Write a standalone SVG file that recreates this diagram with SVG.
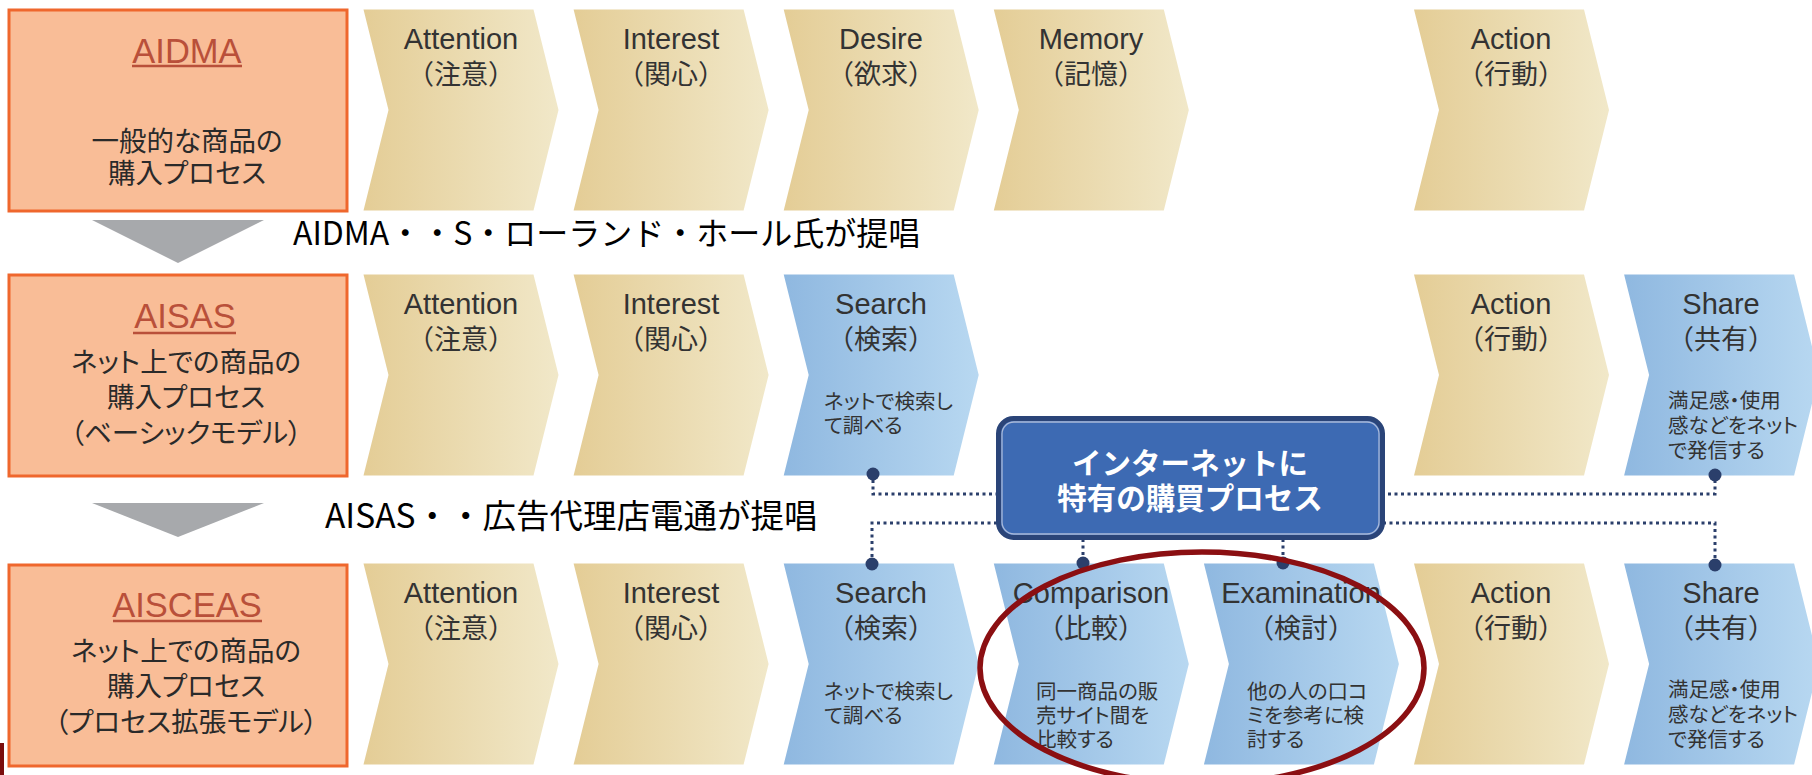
<svg xmlns="http://www.w3.org/2000/svg" xmlns:xlink="http://www.w3.org/1999/xlink" width="1812" height="775" viewBox="0 0 1812 775">
<style>
.model{fill:#f9bd97;stroke:#ef672d;stroke-width:3}
.title{font-family:"Liberation Sans","Noto Sans CJK JP",sans-serif;font-size:34.5px;fill:#b9503a;text-anchor:middle}
.uline{stroke:#b9503a;stroke-width:2.6}
.mtext{font-family:"Noto Sans CJK JP",sans-serif;font-size:27.5px;fill:#2a2a2a;text-anchor:middle;font-feature-settings:"palt"}
.tan{fill:url(#gTan)}
.blue{fill:url(#gBlue)}
.lbl{font-family:"Liberation Sans","Noto Sans CJK JP",sans-serif;font-size:29px;fill:#333;text-anchor:middle}
.jp{font-family:"Noto Sans CJK JP",sans-serif;font-size:27px;fill:#333;text-anchor:middle}
.desc{font-family:"Noto Sans CJK JP",sans-serif;font-size:20.5px;fill:#333;font-feature-settings:"palt"}
.note{font-family:"Noto Sans CJK JP",sans-serif;fill:#000}
.garrow{fill:#a7a9ac}
.conn{fill:none;stroke:#2b3f6b;stroke-width:3;stroke-dasharray:3 3.5}
.dot{fill:#2b3f6b}
.hub{font-family:"Noto Sans CJK JP",sans-serif;font-size:29.5px;font-weight:bold;fill:#fff;text-anchor:middle}
</style>
<defs>
<linearGradient id="gTan" x1="0" y1="0" x2="1" y2="0"><stop offset="0" stop-color="#e4cd96"/><stop offset="1" stop-color="#f1e8c9"/></linearGradient>
<linearGradient id="gBlue" x1="0" y1="0" x2="1" y2="0"><stop offset="0" stop-color="#8fb8e0"/><stop offset="1" stop-color="#b8d8f1"/></linearGradient>
<path id="chev" d="M0,0 H170 L195,100.5 L170,201 H0 L25,100.5 Z"/>
</defs>
<rect width="1812" height="775" fill="#fff"/>

<!-- Row 1: AIDMA -->
<g id="aidma">
<rect class="model" x="9" y="10" width="338" height="201"/>
<text class="title" x="187" y="63">AIDMA</text>
<line class="uline" x1="132" y1="66" x2="242" y2="66"/>
<text class="mtext" x="187" y="151">一般的な商品の</text>
<text class="mtext" x="187" y="183">購入プロセス</text>
</g>
<g id="r1-attention"><use href="#chev" class="tan" x="363.5" y="9.5"/><text class="lbl" x="461" y="48.5">Attention</text><text class="jp" x="461" y="84">（注意）</text></g>
<g id="r1-interest"><use href="#chev" class="tan" x="573.6" y="9.5"/><text class="lbl" x="671" y="48.5">Interest</text><text class="jp" x="671" y="84">（関心）</text></g>
<g id="r1-desire"><use href="#chev" class="tan" x="783.7" y="9.5"/><text class="lbl" x="881" y="48.5">Desire</text><text class="jp" x="881" y="84">（欲求）</text></g>
<g id="r1-memory"><use href="#chev" class="tan" x="993.8" y="9.5"/><text class="lbl" x="1091" y="48.5">Memory</text><text class="jp" x="1091" y="84">（記憶）</text></g>
<g id="r1-action"><use href="#chev" class="tan" x="1414" y="9.5"/><text class="lbl" x="1511" y="48.5">Action</text><text class="jp" x="1511" y="84">（行動）</text></g>

<g id="arrow1"><polygon class="garrow" points="92,220 264,220 178,263"/></g>
<g id="note1"><text class="note" x="293" y="245" font-size="32">AIDMA・・S・ローランド・ホール氏が提唱</text></g>

<!-- Row 2: AISAS -->
<g id="aisas">
<rect class="model" x="9" y="275" width="338" height="201"/>
<text class="title" x="185" y="328">AISAS</text>
<line class="uline" x1="133" y1="333" x2="236" y2="333"/>
<text class="mtext" x="186" y="372">ネット上での商品の</text>
<text class="mtext" x="186" y="407">購入プロセス</text>
<text class="mtext" x="186" y="443">（ベーシックモデル）</text>
</g>
<g id="r2-attention"><use href="#chev" class="tan" x="363.5" y="274.5"/><text class="lbl" x="461" y="314">Attention</text><text class="jp" x="461" y="349">（注意）</text></g>
<g id="r2-interest"><use href="#chev" class="tan" x="573.6" y="274.5"/><text class="lbl" x="671" y="314">Interest</text><text class="jp" x="671" y="349">（関心）</text></g>
<g id="r2-search"><use href="#chev" class="blue" x="783.7" y="274.5"/><text class="lbl" x="881" y="314">Search</text><text class="jp" x="881" y="349">（検索）</text>
<text class="desc" x="824" y="409">ネットで検索し</text><text class="desc" x="824" y="433">て調べる</text></g>
<g id="r2-action"><use href="#chev" class="tan" x="1414" y="274.5"/><text class="lbl" x="1511" y="314">Action</text><text class="jp" x="1511" y="349">（行動）</text></g>
<g id="r2-share"><use href="#chev" class="blue" x="1624.1" y="274.5"/><text class="lbl" x="1721" y="314">Share</text><text class="jp" x="1721" y="349">（共有）</text>
<text class="desc" x="1668" y="408">満足感・使用</text><text class="desc" x="1668" y="433">感などをネット</text><text class="desc" x="1668" y="458">で発信する</text></g>

<g id="arrow2"><polygon class="garrow" points="92,503 264,503 178,537"/></g>
<g id="note2"><text class="note" x="325" y="528" font-size="33.5">AISAS・・広告代理店電通が提唱</text></g>

<!-- Row 3: AISCEAS -->
<g id="aisceas">
<rect class="model" x="9" y="565" width="338" height="201"/>
<text class="title" x="187" y="617">AISCEAS</text>
<line class="uline" x1="113" y1="621" x2="262" y2="621"/>
<text class="mtext" x="186" y="661">ネット上での商品の</text>
<text class="mtext" x="186" y="696">購入プロセス</text>
<text class="mtext" x="186" y="732">（プロセス拡張モデル）</text>
</g>
<g id="r3-attention"><use href="#chev" class="tan" x="363.5" y="563.5"/><text class="lbl" x="461" y="603">Attention</text><text class="jp" x="461" y="638">（注意）</text></g>
<g id="r3-interest"><use href="#chev" class="tan" x="573.6" y="563.5"/><text class="lbl" x="671" y="603">Interest</text><text class="jp" x="671" y="638">（関心）</text></g>
<g id="r3-search"><use href="#chev" class="blue" x="783.7" y="563.5"/><text class="lbl" x="881" y="603">Search</text><text class="jp" x="881" y="638">（検索）</text>
<text class="desc" x="824" y="699">ネットで検索し</text><text class="desc" x="824" y="723">て調べる</text></g>
<g id="r3-comparison"><use href="#chev" class="blue" x="993.8" y="563.5"/><text class="lbl" x="1091" y="603">Comparison</text><text class="jp" x="1091" y="638">（比較）</text>
<text class="desc" x="1036" y="699">同一商品の販</text><text class="desc" x="1036" y="723">売サイト間を</text><text class="desc" x="1036" y="747">比較する</text></g>
<g id="r3-examination"><use href="#chev" class="blue" x="1203.9" y="563.5"/><text class="lbl" x="1301" y="603">Examination</text><text class="jp" x="1301" y="638">（検討）</text>
<text class="desc" x="1247" y="699">他の人の口コ</text><text class="desc" x="1247" y="723">ミを参考に検</text><text class="desc" x="1247" y="747">討する</text></g>
<g id="r3-action"><use href="#chev" class="tan" x="1414" y="563.5"/><text class="lbl" x="1511" y="603">Action</text><text class="jp" x="1511" y="638">（行動）</text></g>
<g id="r3-share"><use href="#chev" class="blue" x="1624.1" y="563.5"/><text class="lbl" x="1721" y="603">Share</text><text class="jp" x="1721" y="638">（共有）</text>
<text class="desc" x="1668" y="697">満足感・使用</text><text class="desc" x="1668" y="722">感などをネット</text><text class="desc" x="1668" y="747">で発信する</text></g>

<!-- Connectors -->
<g id="connectors">
<path class="conn" d="M873,480 V494 H997"/>
<path class="conn" d="M1715,480 V494 H1383"/>
<path class="conn" d="M997,523 H872 V558"/>
<path class="conn" d="M1383,523 H1715 V558"/>
<path class="conn" d="M1083,539 V558"/>
<path class="conn" d="M1283,539 V558"/>
<circle class="dot" cx="873" cy="474" r="6.5"/>
<circle class="dot" cx="1715" cy="475" r="6.5"/>
<circle class="dot" cx="872" cy="564" r="6.5"/>
<circle class="dot" cx="1715" cy="565" r="6.5"/>
<circle class="dot" cx="1083" cy="563" r="6.5"/>
<circle class="dot" cx="1283" cy="563" r="6.5"/>
</g>

<!-- Hub -->
<g id="hub">
<rect x="998.5" y="418.5" width="384" height="119" rx="15" fill="#3d6ab3" stroke="#2a4478" stroke-width="5"/>
<rect x="1002" y="422" width="377" height="112" rx="12" fill="none" stroke="#a9b9d9" stroke-width="1.3"/>
<text class="hub" x="1190" y="474">インターネットに</text>
<text class="hub" x="1190" y="509">特有の購買プロセス</text>
</g>

<!-- Highlight ellipse -->
<g id="highlight"><ellipse cx="1202" cy="668" rx="222" ry="116" fill="none" stroke="#8b0f12" stroke-width="5.5"/></g>
<rect id="edge-mark" x="0" y="743" width="4" height="32" fill="#7b0d0d"/>
</svg>
